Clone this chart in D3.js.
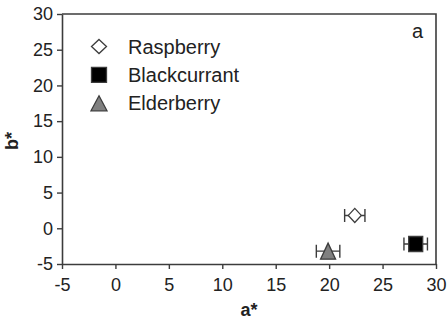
<!DOCTYPE html>
<html>
<head>
<meta charset="utf-8">
<script src="https://cdn.jsdelivr.net/npm/d3@7"></script>
<style>
  html, body { margin: 0; padding: 0; background: #fff; }
  svg { display: block; font-family: "Liberation Sans", Arial, sans-serif; }
</style>
</head>
<body>
<svg id="chart" width="448" height="321"></svg>
<script>
// Colour coordinates (CIELAB a*, b*) per fruit, mean with error in a*
const fruits = ["Raspberry", "Blackcurrant", "Elderberry"];
const aValues = [22.4, 28.1, 19.9];
const bValues = [1.8, -2.2, -3.2];
const aErrors = [0.95, 1.1, 1.1];
const xTicks = [-5, 0, 5, 10, 15, 20, 25, 30];
const yTicks = [-5, 0, 5, 10, 15, 20, 25, 30];

const markerStyle = {
  Raspberry:    { shape: "diamond",  fill: "#ffffff" },
  Blackcurrant: { shape: "square",   fill: "#000000" },
  Elderberry:   { shape: "triangle", fill: "#808080" }
};

const ink = "#3c3c3c";
const svg = d3.select("#chart");
const margin = { left: 62, right: 12, top: 14, bottom: 57 };
const W = 448, H = 321;

const x = d3.scaleLinear().domain([-5, 30]).range([margin.left, W - margin.right]);
const y = d3.scaleLinear().domain([-5, 30]).range([H - margin.bottom, margin.top]);

// Marker path centred on its bounding box
function markerPath(shape, w, h) {
  const p = d3.path();
  if (shape === "diamond") {
    p.moveTo(0, -h / 2); p.lineTo(w / 2, 0); p.lineTo(0, h / 2); p.lineTo(-w / 2, 0); p.closePath();
  } else if (shape === "square") {
    p.rect(-w / 2, -h / 2, w, h);
  } else {
    p.moveTo(0, -h / 2); p.lineTo(w / 2, h / 2); p.lineTo(-w / 2, h / 2); p.closePath();
  }
  return p.toString();
}
const plotSize = { diamond: [13, 14], square: [14, 15], triangle: [15, 16] };
const legendSize = { diamond: [15, 14], square: [15, 15], triangle: [16, 15] };

// Frame (top and right edges)
svg.append("path")
  .attr("d", `M${x(-5)},${y(30)}H${x(30)}V${y(-5)}`)
  .attr("fill", "none").attr("stroke", ink).attr("stroke-width", 1.6);

// Axes (plain hyphen for negative numbers)
const fmt = v => String(v);
const xAxis = svg.append("g")
  .attr("transform", `translate(0,${y(-5)})`)
  .call(d3.axisBottom(x).tickValues(xTicks).tickFormat(fmt).tickSize(5).tickPadding(9).tickSizeOuter(0));
const yAxis = svg.append("g")
  .attr("transform", `translate(${x(-5)},0)`)
  .call(d3.axisLeft(y).tickValues(yTicks).tickFormat(fmt).tickSize(5).tickPadding(4).tickSizeOuter(0));

[xAxis, yAxis].forEach(g => {
  g.select(".domain").attr("stroke", ink).attr("stroke-width", 1.6);
  g.selectAll(".tick line").attr("stroke", ink).attr("stroke-width", 1.4);
  g.selectAll(".tick text")
    .attr("fill", "#222").attr("font-size", 18)
    .attr("font-family", "Liberation Sans, Arial, sans-serif");
});

// Axis titles
svg.append("text")
  .attr("x", x(12.5)).attr("y", 316)
  .attr("text-anchor", "middle").attr("font-size", 18).attr("font-weight", "bold").attr("fill", "#222")
  .text("a*");
svg.append("text")
  .attr("transform", `translate(18,${141}) rotate(-90)`)
  .attr("text-anchor", "middle").attr("font-size", 18).attr("font-weight", "bold").attr("fill", "#222")
  .text("b*");

// Panel letter
svg.append("text")
  .attr("x", 412).attr("y", 38)
  .attr("font-size", 20).attr("fill", "#222")
  .text("a");

// Data points with horizontal error bars
const data = fruits.map((name, i) => ({ name, a: aValues[i], b: bValues[i], err: aErrors[i] }));
const pts = svg.append("g").selectAll("g").data(data).join("g")
  .attr("transform", d => `translate(${x(d.a)},${y(d.b)})`);

pts.append("path")
  .attr("d", d => {
    const l = x(d.a - d.err) - x(d.a), r = x(d.a + d.err) - x(d.a), c = 6.5;
    return `M${l},0H${r}M${l},${-c}V${c}M${r},${-c}V${c}`;
  })
  .attr("fill", "none").attr("stroke", ink).attr("stroke-width", 1.4);

pts.append("path")
  .attr("d", d => {
    const s = markerStyle[d.name].shape;
    return markerPath(s, plotSize[s][0], plotSize[s][1]);
  })
  .attr("fill", d => markerStyle[d.name].fill)
  .attr("stroke", ink).attr("stroke-width", 1.3);

// Legend
const legend = svg.append("g").selectAll("g").data(fruits).join("g")
  .attr("transform", (d, i) => `translate(99,${46.5 + i * 28.4})`);
legend.append("path")
  .attr("d", d => {
    const s = markerStyle[d].shape;
    return markerPath(s, legendSize[s][0], legendSize[s][1]);
  })
  .attr("fill", d => markerStyle[d].fill)
  .attr("stroke", ink).attr("stroke-width", 1.3);
legend.append("text")
  .attr("x", 29).attr("y", 7)
  .attr("font-size", 20).attr("fill", "#222")
  .text(d => d);
</script>
</body>
</html>
